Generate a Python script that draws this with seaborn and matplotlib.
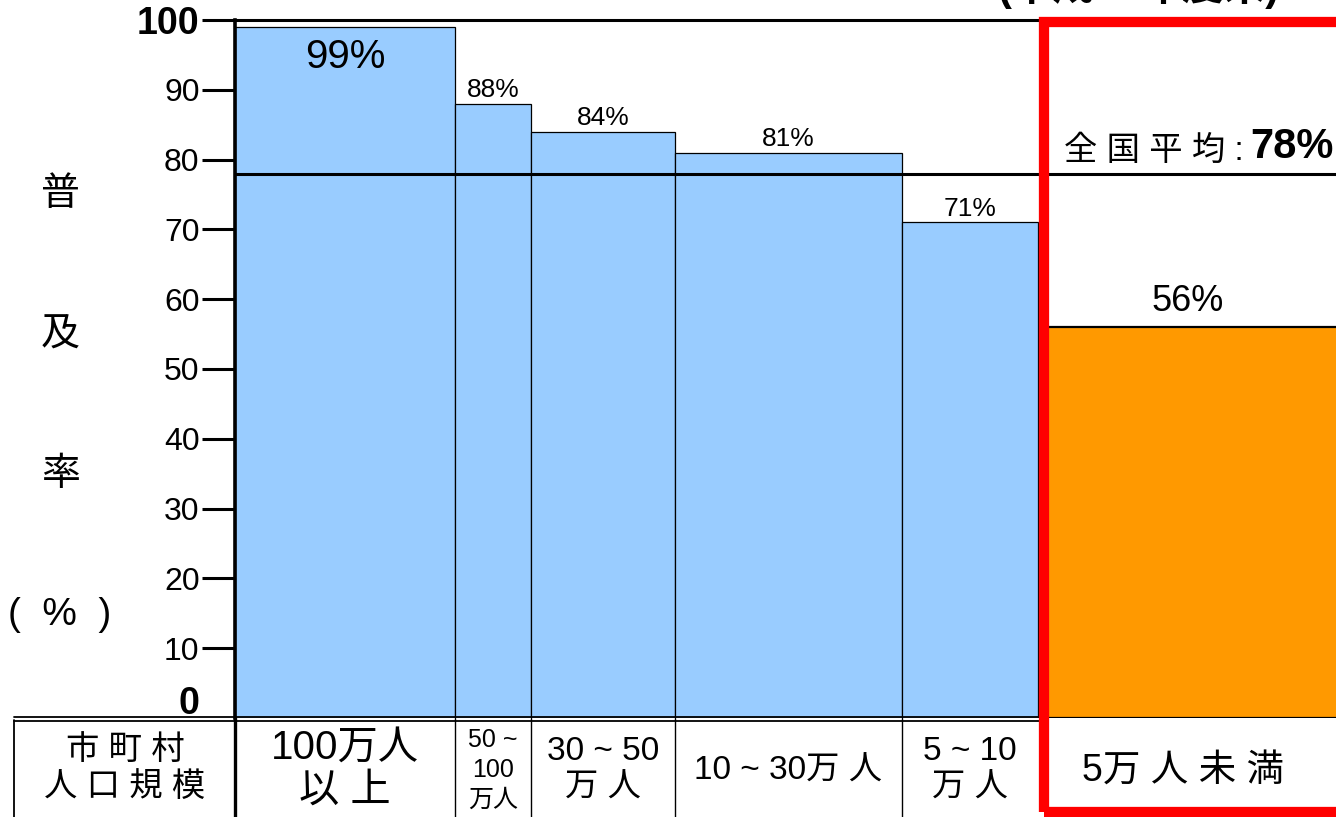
import matplotlib
matplotlib.use("Agg")
import matplotlib.pyplot as plt
import matplotlib.transforms as mtransforms
from matplotlib.lines import Line2D
from matplotlib.patches import Rectangle
import numpy as np
import pandas as pd
import seaborn as sns

# ---- data -------------------------------------------------------------
size_labels = ["100万人\n以 上", "50 ~\n100\n万人", "30 ~ 50\n万 人",
               "10 ~ 30万 人", "5 ~ 10\n万 人", "5万 人 未 満"]
coverage = [99, 88, 84, 81, 71, 56]          # 普及率 (%)
pop_width = [22.0, 7.6, 14.4, 22.7, 13.6, 30.0]  # bar widths (population weight)
national_avg = 78
y_ticks = [0, 10, 20, 30, 40, 50, 60, 70, 80, 90, 100]
small_gap = 0.5

# ---- style ------------------------------------------------------------
sns.set_theme(style="white")
plt.rcParams["font.family"] = ["Liberation Sans", "Noto Sans CJK JP", "DejaVu Sans"]
plt.rcParams["text.color"] = "black"
plt.rcParams["ytick.color"] = "black"
plt.rcParams["ytick.labelcolor"] = "black"

W, H = 1336, 817
fig = plt.figure(figsize=(W / 100, H / 100), dpi=100)


def fx(px):
    return px / W


def fy(py):
    return 1 - py / H


ax = fig.add_axes([fx(235), fy(718), fx(1336) - fx(235), fy(20) - fy(718)])

# bar edges built from the widths
edges = [0.0] + [float(v) for v in np.cumsum(pop_width[:5])]
orange_left = edges[-1] + small_gap
orange_edges = [orange_left, orange_left + pop_width[5]]
centers = [(a + b) / 2 for a, b in zip(edges[:-1], edges[1:])]
orange_center = (orange_edges[0] + orange_edges[1]) / 2
all_centers = centers + [orange_center]

blue = "#99CCFF"
orange = "#FF9900"

blue_df = pd.DataFrame({"center": centers, "rate": coverage[:5]})
orange_df = pd.DataFrame({"center": [orange_center], "rate": [coverage[5]]})

sns.histplot(data=blue_df, x="center", weights="rate", bins=edges, ax=ax,
             color=blue, alpha=1, edgecolor="black", linewidth=0.9)
sns.histplot(data=orange_df, x="center", weights="rate", bins=orange_edges, ax=ax,
             color=orange, alpha=1, edgecolor="black", linewidth=1.6)

ax.set_xlim(0, (1336 - 235) / 10)
ax.set_ylim(0, 100)
ax.set_xlabel("")
ax.set_ylabel("")
ax.set_xticks([])

# national average line
ax.axhline(national_avg, color="black", lw=2.2, zorder=5)

# y axis
ax.set_yticks(y_ticks)
ax.set_yticklabels([str(t) for t in y_ticks])
ax.tick_params(axis="y", which="both", direction="out", length=24, width=2.2,
               pad=1.5, labelsize=23, colors="black", left=True)
for lab in ax.get_yticklabels():
    if lab.get_text() in ("0", "100"):
        lab.set_fontsize(27)
        lab.set_fontweight("bold")
zero_lab = ax.get_yticklabels()[0]
zero_lab.set_transform(zero_lab.get_transform() +
                       mtransforms.ScaledTranslation(0, 0.18, fig.dpi_scale_trans))
ax.yaxis.get_major_ticks()[0].tick1line.set_visible(False)

for side in ("right", "bottom"):
    ax.spines[side].set_visible(False)
ax.spines["left"].set_linewidth(2.6)
ax.spines["left"].set_color("black")
ax.spines["top"].set_linewidth(2.2)
ax.spines["top"].set_color("black")

# value labels
ax.text(centers[0], coverage[0] - 4.3, f"{coverage[0]}%", ha="center", va="center",
        fontsize=29)
for c, v in zip(centers[1:], coverage[1:5]):
    ax.text(c, v + 0.2, f"{v}%", ha="center", va="bottom", fontsize=19)
ax.text(orange_center - 0.5, coverage[5] + 1.2, f"{coverage[5]}%", ha="center",
        va="bottom", fontsize=26)
ax.text((1244 - 235) / 10, national_avg + 1.0, "全 国 平 均 :", ha="right",
        va="bottom", fontsize=24)
ax.text((1250 - 235) / 10, national_avg + 1.0, f"{national_avg}%", ha="left",
        va="bottom", fontsize=30, fontweight="bold")

# y axis title, one character per row
for txt, py in [("普", 195), ("及", 335), ("率", 475), ("(  %  )", 615)]:
    fig.text(fx(60), fy(py), txt, ha="center", va="center", fontsize=28)

# ---- table under the chart -------------------------------------------
tbl = mtransforms.blended_transform_factory(ax.transData, fig.transFigure)

fig.add_artist(Line2D([fx(14), fx(1040)], [fy(716.5)] * 2, color="black", lw=1.3))
fig.add_artist(Line2D([fx(14), fx(1040)], [fy(720.5)] * 2, color="black", lw=1.3))
fig.add_artist(Line2D([fx(14), fx(14)], [fy(720), 0], color="black", lw=1.3))
fig.add_artist(Line2D([fx(235), fx(235)], [fy(718), 0], color="black", lw=2.4))
for e in edges[1:-1]:
    fig.add_artist(Line2D([e, e], [fy(718), 0], color="black", lw=1.0,
                          transform=tbl))

fig.text(fx(125), fy(769), "市 町 村\n人 口 規 模", ha="center", va="center",
         fontsize=24, linespacing=1.25)

label_sizes = [29, 18, 24, 24, 24, 27]
label_spacing = [1.15, 1.3, 1.25, 1.0, 1.25, 1.0]
label_y = [769, 770, 770, 771, 770, 771]
for c, lab, fs, ls, ly in zip(all_centers, size_labels, label_sizes,
                              label_spacing, label_y):
    xc = c if lab != size_labels[5] else c - 1.0
    ax.text(xc, fy(ly), lab, transform=tbl, ha="center", va="center",
            fontsize=fs, linespacing=ls, clip_on=False)

# highlight frame around the smallest municipality group
fig.add_artist(Rectangle((fx(1043.5), fy(812)), fx(400), fy(22) - fy(812),
                         transform=fig.transFigure, fill=False,
                         edgecolor="#FF0000", lw=7.4, zorder=20))

# heading (runs past the top edge)
fig.text(fx(998), fy(-13), "(平成15年度末)", ha="left", va="center",
         fontsize=30, fontweight="bold")

fig.savefig("out.png", dpi=100)
